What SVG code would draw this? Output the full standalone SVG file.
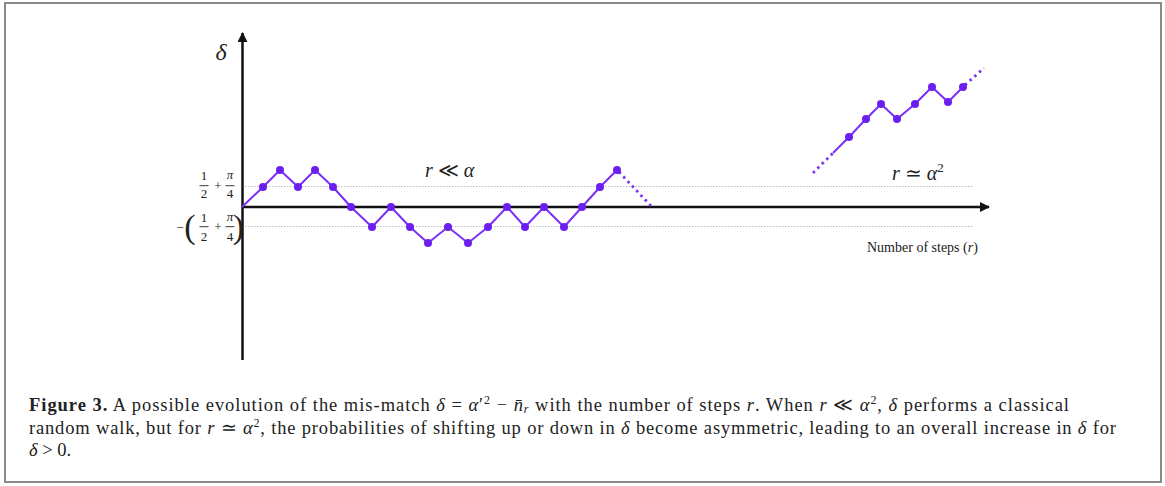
<svg xmlns="http://www.w3.org/2000/svg" width="1165" height="486" viewBox="0 0 1165 486">
<defs>
<style>
.ax{stroke:#111;stroke-width:2.5;fill:none}
.grid{stroke:#bdbdbd;stroke-width:1.2;stroke-dasharray:1.5 1.5;fill:none}
.walk{stroke:#7b2ff7;stroke-width:2;fill:none;stroke-linejoin:round}
.dash{stroke:#7b2ff7;stroke-width:2.8;fill:none;stroke-dasharray:2.5 3.8}
.dot{fill:#6a1ff0}
.t{font-family:"Liberation Serif","Times New Roman",serif;fill:#222}
.i{font-style:italic}
.b{font-weight:bold}
.fr{stroke:#222;stroke-width:0.9}
</style>
<marker id="arr" viewBox="0 0 10 10" refX="9" refY="5" markerWidth="10" markerHeight="10" markerUnits="userSpaceOnUse" orient="auto">
<path d="M0,0 L10,5 L0,10 Z" fill="#111"/>
</marker>
</defs>
<rect x="5" y="3" width="1156" height="479" fill="#fff" stroke="#8a8a8a" stroke-width="2"/>
<g id="grid">
<line class="grid" x1="242" y1="186.5" x2="973" y2="186.5"/>
<line class="grid" x1="242" y1="226.5" x2="973" y2="226.5"/>
</g>
<g id="axes">
<line class="ax" x1="242.5" y1="360" x2="242.5" y2="33" marker-end="url(#arr)"/>
<line class="ax" x1="242" y1="207" x2="989" y2="207" marker-end="url(#arr)"/>
</g>
<g id="connectors">
<polyline class="walk" points="242,207 263,187 280,170 298,187 315,170 333,187 351,207 372,227 391,207 410,227 428,243 448,227 468,243 488,227 507,207 525,227 544,207 564,227 582,207 600,187 617,170"/>
<line class="dash" x1="619" y1="172" x2="652" y2="207"/>
<line class="dash" x1="813" y1="173" x2="833" y2="153"/>
<polyline class="walk" points="833,153 849,137 866,119 881,104 897,119 915,104 932,87 948,102 963,87"/>
<line class="dash" x1="965" y1="85" x2="984" y2="68"/>
</g>
<g id="dots">
<circle class="dot" cx="263" cy="187" r="4"/>
<circle class="dot" cx="280" cy="170" r="4"/>
<circle class="dot" cx="298" cy="187" r="4"/>
<circle class="dot" cx="315" cy="170" r="4"/>
<circle class="dot" cx="333" cy="187" r="4"/>
<circle class="dot" cx="351" cy="207" r="4"/>
<circle class="dot" cx="372" cy="227" r="4"/>
<circle class="dot" cx="391" cy="207" r="4"/>
<circle class="dot" cx="410" cy="227" r="4"/>
<circle class="dot" cx="428" cy="243" r="4"/>
<circle class="dot" cx="448" cy="227" r="4"/>
<circle class="dot" cx="468" cy="243" r="4"/>
<circle class="dot" cx="488" cy="227" r="4"/>
<circle class="dot" cx="507" cy="207" r="4"/>
<circle class="dot" cx="525" cy="227" r="4"/>
<circle class="dot" cx="544" cy="207" r="4"/>
<circle class="dot" cx="564" cy="227" r="4"/>
<circle class="dot" cx="582" cy="207" r="4"/>
<circle class="dot" cx="600" cy="187" r="4"/>
<circle class="dot" cx="617" cy="170" r="4"/>
<circle class="dot" cx="849" cy="137" r="4"/>
<circle class="dot" cx="866" cy="119" r="4"/>
<circle class="dot" cx="881" cy="104" r="4"/>
<circle class="dot" cx="897" cy="119" r="4"/>
<circle class="dot" cx="915" cy="104" r="4"/>
<circle class="dot" cx="932" cy="87" r="4"/>
<circle class="dot" cx="948" cy="102" r="4"/>
<circle class="dot" cx="963" cy="87" r="4"/>
</g>
<g id="labels">
<text class="t i" x="221" y="60" font-size="24" text-anchor="middle">δ</text>
<g id="upper-level" font-size="13" text-anchor="middle">
<text class="t" x="204" y="180">1</text>
<line class="fr" x1="199.5" y1="185.7" x2="208.5" y2="185.7"/>
<text class="t" x="204" y="198">2</text>
<text class="t" x="218" y="190">+</text>
<text class="t i" x="230" y="179">π</text>
<line class="fr" x1="225.5" y1="185.7" x2="234.5" y2="185.7"/>
<text class="t" x="230" y="198">4</text>
</g>
<g id="lower-level" font-size="13" text-anchor="middle">
<text class="t" x="180" y="232">−</text>
<text class="t" x="190" y="238" font-size="34">(</text>
<text class="t" x="204" y="222">1</text>
<line class="fr" x1="199.5" y1="226.7" x2="208.5" y2="226.7"/>
<text class="t" x="204" y="241">2</text>
<text class="t" x="218" y="231">+</text>
<text class="t i" x="230" y="221">π</text>
<line class="fr" x1="225.5" y1="226.7" x2="234.5" y2="226.7"/>
<text class="t" x="238.5" y="238" font-size="34">)</text>
</g>
<text class="t" x="230" y="241" font-size="13" text-anchor="middle">4</text>
<text class="t i" x="425" y="177" font-size="20">r <tspan font-style="normal">≪</tspan> α</text>
<text class="t i" x="892" y="180" font-size="20">r <tspan font-style="normal">≃</tspan> α<tspan font-style="normal" font-size="13" dy="-8">2</tspan></text>
<text class="t" x="867" y="252" font-size="14">Number of steps (<tspan class="i">r</tspan>)</text>
</g>
<g id="caption">
<text class="t" x="29" y="411" font-size="18.5" textLength="1040" lengthAdjust="spacing"><tspan class="b">Figure 3.</tspan> A possible evolution of the mis-match <tspan class="i">δ</tspan> = <tspan class="i">α</tspan>′<tspan font-size="12" baseline-shift="super">2</tspan> − <tspan class="i">n̄</tspan><tspan class="i" font-size="12" baseline-shift="-2">r</tspan> with the number of steps <tspan class="i">r</tspan>. When <tspan class="i">r</tspan> ≪ <tspan class="i">α</tspan><tspan font-size="12" baseline-shift="super">2</tspan>, <tspan class="i">δ</tspan> performs a classical</text>
<text class="t" x="29" y="434" font-size="18.5" textLength="1087" lengthAdjust="spacing">random walk, but for <tspan class="i">r</tspan> ≃ <tspan class="i">α</tspan><tspan font-size="12" baseline-shift="super">2</tspan>, the probabilities of shifting up or down in <tspan class="i">δ</tspan> become asymmetric, leading to an overall increase in <tspan class="i">δ</tspan> for</text>
<text class="t" x="29" y="456" font-size="18.5"><tspan class="i">δ</tspan> &gt; 0.</text>
</g>
</svg>
